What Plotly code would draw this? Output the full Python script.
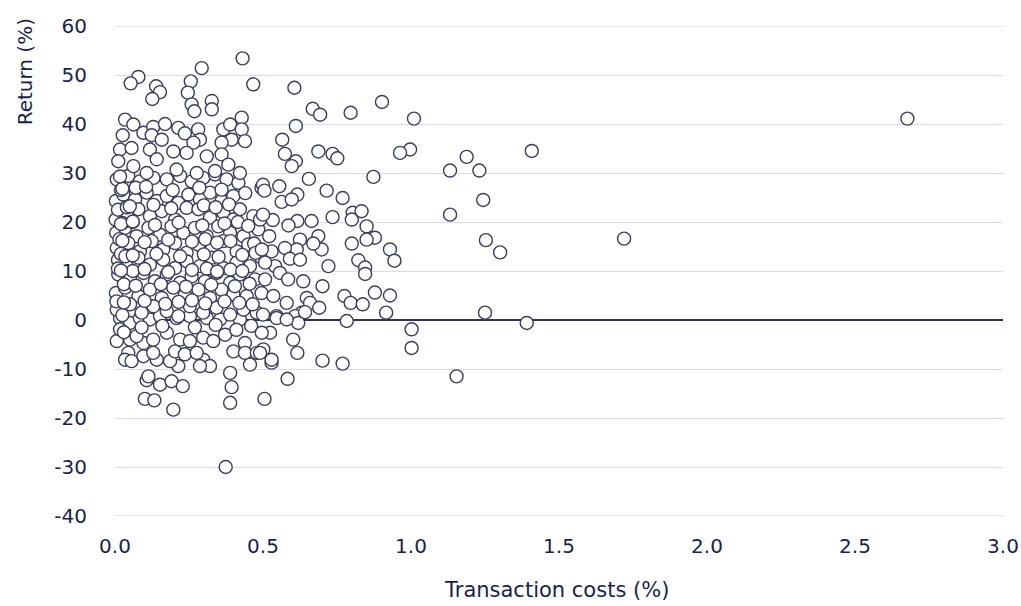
import plotly.graph_objects as go

# ---- Data (transaction costs %, return %) ----
# Sparse / outlying funds (right-hand side)
cost_sparse = [2.677, 1.72, 1.408, 1.391, 1.301, 1.253, 1.244, 1.231, 1.250, 1.188,
               1.154, 1.132, 1.132, 1.010, 0.997, 0.963, 1.002, 1.002, 0.929, 0.944,
               0.929, 0.916, 0.902, 0.873, 0.878]
ret_sparse = [41.1, 16.6, 34.5, -0.6, 13.8, 16.3, 24.5, 30.5, 1.5, 33.3,
              -11.5, 30.5, 21.5, 41.1, 34.8, 34.1, -1.9, -5.7, 14.4, 12.1,
              5.0, 1.5, 44.5, 29.2, 5.6]

# Mid-range funds (0.5 - 0.9)
cost_mid = [0.606, 0.668, 0.693, 0.796, 0.611, 0.565, 0.574, 0.611, 0.597, 0.687,
            0.735, 0.751, 0.655, 0.500, 0.505, 0.555, 0.563, 0.616, 0.597, 0.715,
            0.769, 0.735, 0.803, 0.833, 0.800, 0.850, 0.878, 0.850, 0.800, 0.822,
            0.845, 0.845, 0.721, 0.701, 0.775, 0.796, 0.837, 0.664, 0.616, 0.586,
            0.533, 0.490, 0.500, 0.521, 0.625, 0.687, 0.698, 0.670, 0.614, 0.574,
            0.529, 0.591, 0.625, 0.541, 0.557, 0.585, 0.636, 0.535, 0.580, 0.648,
            0.659, 0.690, 0.631, 0.546, 0.608, 0.507, 0.507, 0.496, 0.783, 0.619,
            0.642, 0.602, 0.616, 0.701, 0.769, 0.583, 0.505, 0.529, 0.529, 0.501,
            0.490, 0.524, 0.496, 0.546, 0.580, 0.500]
ret_mid = [47.4, 43.1, 41.9, 42.3, 39.6, 36.8, 33.9, 32.4, 31.4, 34.4,
           33.9, 33.0, 28.8, 27.6, 26.4, 27.3, 24.1, 25.6, 24.6, 26.4,
           24.9, 21.0, 21.9, 22.2, 20.5, 19.1, 16.8, 16.4, 15.6, 12.2,
           10.7, 9.4, 11.0, 6.9, 4.9, 3.5, 3.2, 20.2, 20.2, 19.3,
           20.4, 20.5, 21.5, 17.1, 16.4, 17.1, 14.4, 15.6, 14.4, 14.7,
           14.0, 12.5, 12.3, 11.0, 9.6, 8.3, 7.9, 4.9, 3.5, 4.5,
           3.5, 2.5, 1.5, 0.8, 0.8, 8.3, 11.7, 14.4, -0.2, -0.6,
           1.6, -4.0, -6.7, -8.3, -8.9, -12.0, -16.1, -8.7, -8.1, -6.0,
           -6.7, -2.6, -2.6, 0.4, 0.1, 1.1]

# Upper part of the main cluster (returns above ~29 %)
cost_top = [0.431, 0.293, 0.079, 0.053, 0.139, 0.152, 0.126, 0.256, 0.246, 0.259,
            0.268, 0.327, 0.327, 0.467, 0.034, 0.062, 0.026, 0.096, 0.129, 0.169,
            0.214, 0.236, 0.281, 0.287, 0.265, 0.366, 0.389, 0.428, 0.428, 0.439,
            0.394, 0.360, 0.124, 0.158, 0.017, 0.056, 0.118, 0.197, 0.242, 0.310,
            0.360, 0.383, 0.141, 0.011, 0.062, 0.107, 0.208, 0.276, 0.338, 0.422,
            0.017]
ret_top = [53.4, 51.4, 49.6, 48.3, 47.7, 46.5, 45.1, 48.7, 46.4, 44.0,
           42.6, 44.7, 43.0, 48.1, 40.9, 39.9, 37.7, 38.2, 39.4, 40.0,
           39.2, 38.1, 38.9, 36.8, 36.2, 38.9, 39.9, 41.3, 38.9, 36.5,
           36.8, 36.2, 37.7, 36.8, 34.8, 35.1, 34.8, 34.4, 34.1, 33.4,
           33.8, 31.7, 32.8, 32.4, 31.4, 30.0, 30.7, 30.0, 30.4, 30.0,
           29.3]

# Dense core of the cluster (returns 0 - 30 %)
cost_core = [0.006, 0.045, 0.084, 0.130, 0.175, 0.220, 0.259, 0.298, 0.338, 0.377, 0.417, 0.495,
             0.003, 0.028, 0.068, 0.107, 0.141, 0.175, 0.214, 0.248, 0.287, 0.321, 0.360, 0.400, 0.422,
             0.002, 0.039, 0.079, 0.118, 0.158, 0.203, 0.242, 0.282, 0.321, 0.366, 0.400, 0.467,
             0.004, 0.034, 0.073, 0.113, 0.152, 0.191, 0.231, 0.270, 0.310, 0.349, 0.389, 0.434, 0.484,
             0.006, 0.045, 0.084, 0.124, 0.163, 0.203, 0.242, 0.282, 0.327, 0.366, 0.411, 0.450,
             0.010, 0.039, 0.079, 0.118, 0.163, 0.203, 0.242, 0.287, 0.327, 0.366, 0.411, 0.456, 0.495,
             0.011, 0.051, 0.096, 0.135, 0.175, 0.220, 0.259, 0.304, 0.343, 0.389, 0.422, 0.473,
             0.003, 0.034, 0.079, 0.118, 0.158, 0.197, 0.236, 0.282, 0.321, 0.360, 0.400, 0.445, 0.495,
             0.006, 0.051, 0.090, 0.130, 0.175, 0.214, 0.253, 0.298, 0.343, 0.389, 0.434, 0.479,
             0.020, 0.010, 0.025, 0.015, 0.020, 0.010, 0.030, 0.005, 0.025, 0.040, 0.035, 0.060,
             0.060, 0.070]
ret_core = [28.7, 29.4, 28.3, 29.0, 28.7, 29.4, 28.3, 29.0, 29.7, 28.7, 28.0, 27.0,
            24.3, 25.6, 24.6, 26.0, 24.3, 25.3, 23.9, 25.6, 24.6, 26.0, 24.3, 25.3, 22.6,
            20.5, 21.9, 22.6, 21.2, 22.2, 20.5, 22.9, 22.6, 20.9, 21.9, 20.5, 21.2,
            17.8, 18.8, 17.1, 18.8, 17.4, 19.1, 17.8, 18.8, 17.1, 19.1, 17.8, 17.1, 18.5,
            14.7, 15.7, 14.0, 16.1, 14.4, 15.7, 13.7, 15.4, 14.4, 16.1, 14.0, 15.4,
            12.3, 11.0, 12.7, 11.3, 12.3, 10.6, 12.0, 11.0, 12.7, 10.6, 11.7, 11.0, 12.7,
            9.3, 8.3, 9.6, 7.9, 9.3, 7.6, 8.9, 7.9, 9.6, 7.6, 9.3, 8.3,
            5.5, 6.6, 4.9, 6.2, 4.5, 6.6, 5.2, 6.2, 4.5, 6.2, 5.2, 4.9, 5.5,
            2.1, 3.2, 1.5, 2.8, 1.8, 0.8, 2.8, 1.5, 2.5, 1.1, 2.1, 1.5,
            26.5, 22.5, 19.8, 16.5, 13.5, 10.5, 7.3, 3.8, 1.0, 23.0, 13.0, 10.0,
            20.0, 27.0]

# Second, overlapping layer of the dense core
cost_core2 = [0.025, 0.105, 0.195, 0.285, 0.360, 0.440,
              0.050, 0.130, 0.190, 0.300, 0.340, 0.385,
              0.020, 0.060, 0.135, 0.215, 0.295, 0.370, 0.415, 0.450,
              0.025, 0.100, 0.180, 0.260, 0.305, 0.345, 0.390, 0.470,
              0.060, 0.140, 0.220, 0.300, 0.350, 0.430, 0.475,
              0.020, 0.100, 0.180, 0.260, 0.310, 0.345, 0.390, 0.430,
              0.070, 0.155, 0.240, 0.325, 0.405, 0.455,
              0.030, 0.100, 0.170, 0.215, 0.260, 0.305, 0.370, 0.420, 0.465]
ret_core2 = [26.8, 27.2, 26.5, 27.0, 26.6, 25.9,
             23.2, 23.5, 22.8, 23.4, 23.0, 23.6,
             19.6, 20.1, 19.4, 19.9, 19.3, 19.7, 20.0, 19.2,
             16.2, 15.9, 16.4, 16.0, 16.5, 15.8, 16.1, 15.6,
             13.2, 13.5, 13.0, 13.4, 12.9, 13.3, 13.7,
             10.1, 10.4, 9.8, 10.2, 10.5, 9.9, 10.3, 10.0,
             7.0, 7.3, 6.8, 7.2, 6.9, 7.4,
             3.6, 3.9, 3.3, 3.7, 4.0, 3.4, 3.8, 3.5, 3.2]

# Lower part of the cluster (negative returns)
cost_low = [0.374, 0.197, 0.389, 0.394, 0.389, 0.101, 0.133, 0.107, 0.152, 0.191,
            0.229, 0.113, 0.298, 0.321, 0.287, 0.214, 0.186, 0.141, 0.045, 0.034,
            0.056, 0.096, 0.006, 0.051, 0.096, 0.129, 0.203, 0.236, 0.276, 0.298,
            0.372, 0.400, 0.439, 0.439, 0.456, 0.479, 0.017, 0.051, 0.084, 0.118,
            0.152, 0.208, 0.253, 0.310, 0.355, 0.422, 0.175, 0.220, 0.253, 0.332,
            0.129, 0.073, 0.017, 0.030, 0.090, 0.160, 0.270, 0.340, 0.410, 0.460]
ret_low = [-30.0, -18.3, -16.9, -13.7, -10.8, -16.1, -16.4, -12.3, -13.2, -12.5,
           -13.5, -11.5, -8.1, -9.4, -9.4, -9.4, -8.4, -8.1, -6.7, -8.1,
           -8.4, -7.4, -4.3, -4.0, -4.7, -6.7, -6.4, -7.0, -6.7, -3.6,
           -3.0, -6.4, -4.7, -6.7, -9.1, -6.7, 0.4, -0.6, 0.4, 0.1,
           0.8, 0.4, 0.8, 0.4, 0.1, 0.1, -2.6, -4.0, -4.3, -4.3,
           -4.0, -3.3, -1.9, -2.5, -1.5, -1.2, -1.5, -1.0, -2.0, -1.2]

x_ticks = [0.0, 0.5, 1.0, 1.5, 2.0, 2.5, 3.0]
x_tick_labels = ["0.0", "0.5", "1.0", "1.5", "2.0", "2.5", "3.0"]
y_ticks = [-40, -30, -20, -10, 0, 10, 20, 30, 40, 50, 60]
y_tick_labels = ["-40", "-30", "-20", "-10", "0", "10", "20", "30", "40", "50", "60"]

costs = cost_low + cost_core + cost_core2 + cost_top + cost_mid + cost_sparse
returns = ret_low + ret_core + ret_core2 + ret_top + ret_mid + ret_sparse

TEXT = "#1b1f4b"
GRID = "#d8dcee"
FONT = "DejaVu Sans"

fig = go.Figure()
fig.add_trace(go.Scatter(
    x=costs, y=returns, mode="markers", cliponaxis=False,
    marker=dict(symbol="circle", size=13, color="white",
                line=dict(color="#3a3e5a", width=1.4)),
    showlegend=False, hoverinfo="x+y"))

fig.update_layout(
    width=1021, height=606,
    margin=dict(l=115, r=18, t=26, b=90, autoexpand=False),
    paper_bgcolor="white", plot_bgcolor="white",
    font=dict(family=FONT, size=20, color=TEXT),
    xaxis=dict(range=[0, 3], tickvals=x_ticks, ticktext=x_tick_labels,
               showgrid=False, zeroline=False, showline=False,
               automargin=False,
               ticks="", ticklabelstandoff=16, ticklabeloverflow="allow",
               tickfont=dict(family=FONT, size=20, color=TEXT)),
    yaxis=dict(range=[-40, 60], tickvals=y_ticks, ticktext=y_tick_labels,
               showgrid=True, gridcolor=GRID, gridwidth=1.3,
               zeroline=True, zerolinecolor="#2f3352", zerolinewidth=1.5,
               automargin=False,
               showline=False, ticks="", ticklabelstandoff=27,
               tickfont=dict(family=FONT, size=20, color=TEXT)),
    shapes=[
        dict(type="line", xref="paper", yref="y", x0=0, x1=1, y0=60, y1=60,
             line=dict(color=GRID, width=1.3), layer="below"),
        dict(type="line", xref="paper", yref="y", x0=0, x1=1, y0=-40, y1=-40,
             line=dict(color=GRID, width=1.3), layer="below"),
    ],
    annotations=[
        dict(text="Return (%)", xref="paper", yref="paper",
             x=-0.101, y=0.906, xanchor="center", yanchor="middle",
             textangle=-90, showarrow=False,
             font=dict(family=FONT, size=20, color=TEXT)),
        dict(text="Transaction costs (%)", xref="paper", yref="paper",
             x=0.497, y=-0.151, xanchor="center", yanchor="middle",
             showarrow=False,
             font=dict(family=FONT, size=21, color=TEXT)),
    ],
)

fig.write_html("out.html",
               config={"displayModeBar": False},
               post_script="document.body.style.margin='0';"
                           "document.body.style.overflow='hidden';")
